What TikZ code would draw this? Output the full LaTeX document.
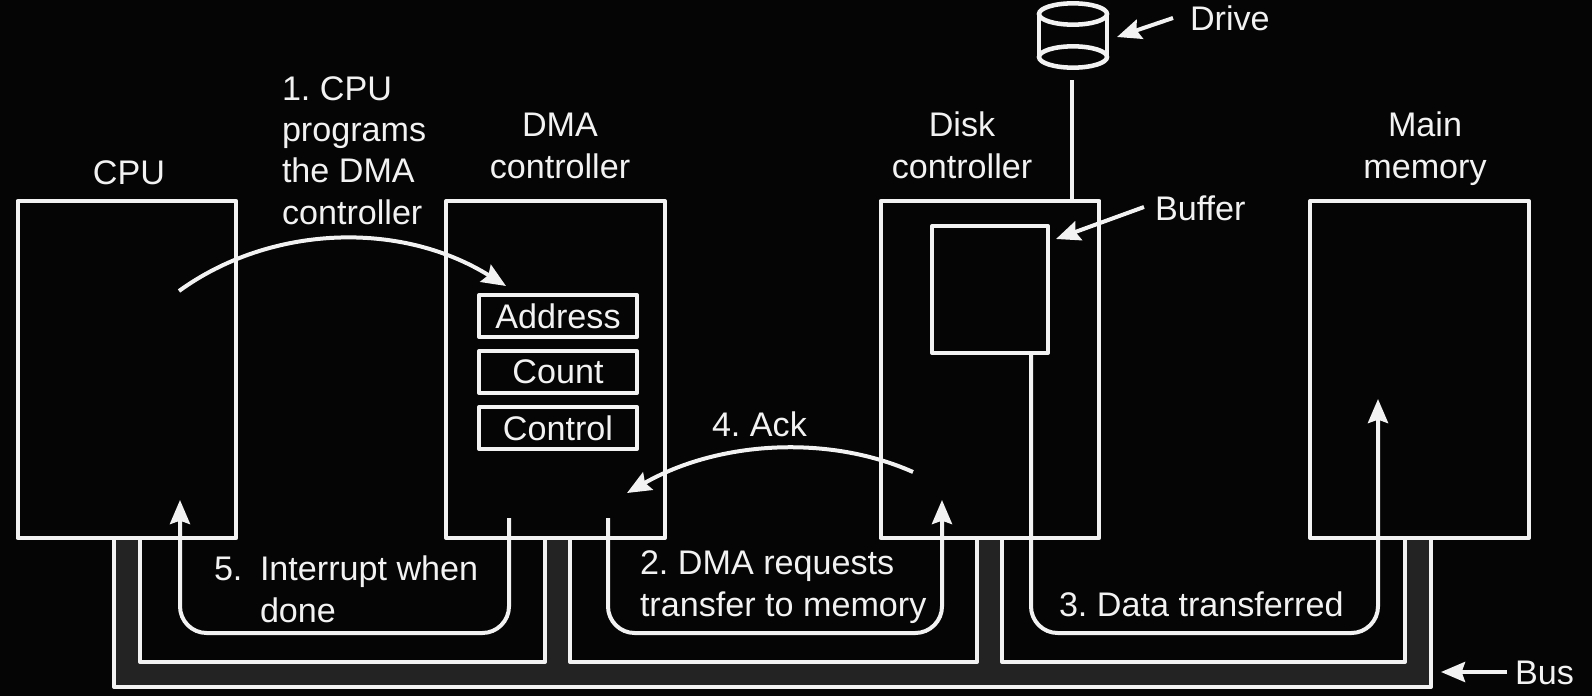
\documentclass[tikz,border=0pt]{standalone}
\usepackage{fontspec}
\setmainfont{Liberation Sans}
\usetikzlibrary{arrows.meta,shapes.geometric}
\definecolor{ink}{HTML}{F2F2F2}
\definecolor{bg}{HTML}{050505}
\definecolor{busfill}{HTML}{232323}
\tikzset{
  box/.style={draw=ink,line width=3pt,rectangle,inner sep=0pt,outer sep=0pt,line join=round},
  bigbox/.style={box,minimum width=164pt,minimum height=252.75pt},
  regbox/.style={box,minimum width=118.5pt,minimum height=31.5pt,text=ink,font=\fontsize{25.6}{25.6}\selectfont},
  label/.style={text=ink,font=\fontsize{25.6}{31}\selectfont\frenchspacing,inner sep=0pt,outer sep=0pt,anchor=base west,align=left},
  clabel/.style={label,anchor=base,align=center},
  conn/.style={draw=ink,line width=3pt,rounded corners=20pt},
  arrow/.style={conn,-{Stealth[length=18pt,width=15pt,inset=2.5pt]}},
  disk/.style={ellipse,draw=ink,line width=3.4pt,inner sep=0pt,outer sep=0pt,minimum width=51pt,minimum height=16pt},
}
\begin{document}
\begin{tikzpicture}[x=0.75pt,y=-0.75pt]
\useasboundingbox[fill=bg] (0,0) rectangle (1592,696);
% bus
\draw[draw=ink,line width=3pt,fill=busfill,line join=round]
  (114,538) -- (114,687) -- (1431,687) -- (1431,538) -- (1405,538) -- (1405,662) -- (1002,662) -- (1002,538)
  -- (977,538) -- (977,662) -- (570,662) -- (570,538) -- (545,538) -- (545,662) -- (140,662) -- (140,538) -- cycle;
% boxes
\node[bigbox,fill=bg] (cpu) at (127,369.5) {};
\node[bigbox,fill=bg] (dma) at (555.5,369.5) {};
\node[bigbox,fill=bg] (dc) at (990,369.5) {};
\node[bigbox,fill=bg] (mem) at (1419.5,369.5) {};
\node[regbox] (addr) at (558,316) {Address};
\node[regbox] (count) at (558,372) {Count};
\node[regbox] (ctrl) at (558,428) {Control};
\node[box,minimum width=87pt,minimum height=95.25pt] (buf) at (990,289.5) {};
% drive
\node[disk] (dtop) at (1073,14) {};
\node[disk] (dbot) at (1073,57) {};
\draw[conn,line width=3.4pt,rounded corners=0pt] (dtop.west) -- (dbot.west) (dtop.east) -- (dbot.east);
\coordinate (dstem) at (1072,80);
\draw[conn,rounded corners=0pt] (dstem) -- (dc.north -| dstem);
% labels
\node[clabel] (lcpu) at (129,184) {CPU};
\node[label] (l1) at (282,224) {1. CPU\\programs\\the DMA\\controller};
\node[clabel] (ldma) at (560,178) {DMA\\controller};
\node[clabel] (ldc) at (962,178) {Disk\\controller};
\node[clabel] (lmem) at (1425,178) {Main\\memory};
\node[label] (lbuf) at (1155,220) {Buffer};
\node[label] (ldrive) at (1190,30) {Drive};
\node[label] (l4) at (712,436) {4. Ack};
\node[label] (l5n) at (214,580) {5.};
\node[label] (l5) at (260,622) {Interrupt when\\done};
\node[label] (l2) at (640,616) {2. DMA requests\\transfer to memory};
\node[label] (l3) at (1059,616) {3. Data transferred};
\node[label] (lbus) at (1515,684) {Bus};
% connectors
\coordinate (a1s) at (179,291);
\coordinate (a1e) at (506,286);
\draw[arrow,rounded corners=0pt] (a1s) .. controls (270,225) and (400,220) .. (a1e);
\coordinate (a4s) at (913,472);
\coordinate (a4e) at (627,493);
\draw[arrow,rounded corners=0pt] (a4s) .. controls (830,435) and (720,440) .. (a4e);
\coordinate (a5s) at (509,518);
\coordinate (a5e) at (180,500);
\draw[arrow] (a5s) -- (509,633) -- (180,633) -- (a5e);
\coordinate (a2s) at (608,518);
\coordinate (a2e) at (942,500);
\draw[arrow] (a2s) -- (608,633) -- (942,633) -- (a2e);
\coordinate (a3e) at (1378,399);
\draw[arrow] (buf.south -| 1031,353) -- (1031,633) -- (1378,633) -- (a3e);
\coordinate (bufs) at (1144,207);
\coordinate (bufe) at (1056,239);
\draw[arrow,rounded corners=0pt] (bufs) -- (bufe);
\coordinate (drvs) at (1173,18);
\coordinate (drve) at (1117,37);
\draw[arrow,rounded corners=0pt] (drvs) -- (drve);
\coordinate (buss) at (1507,672);
\coordinate (buse) at (1441,672);
\draw[arrow,rounded corners=0pt] (buss) -- (buse);
\end{tikzpicture}
\end{document}
